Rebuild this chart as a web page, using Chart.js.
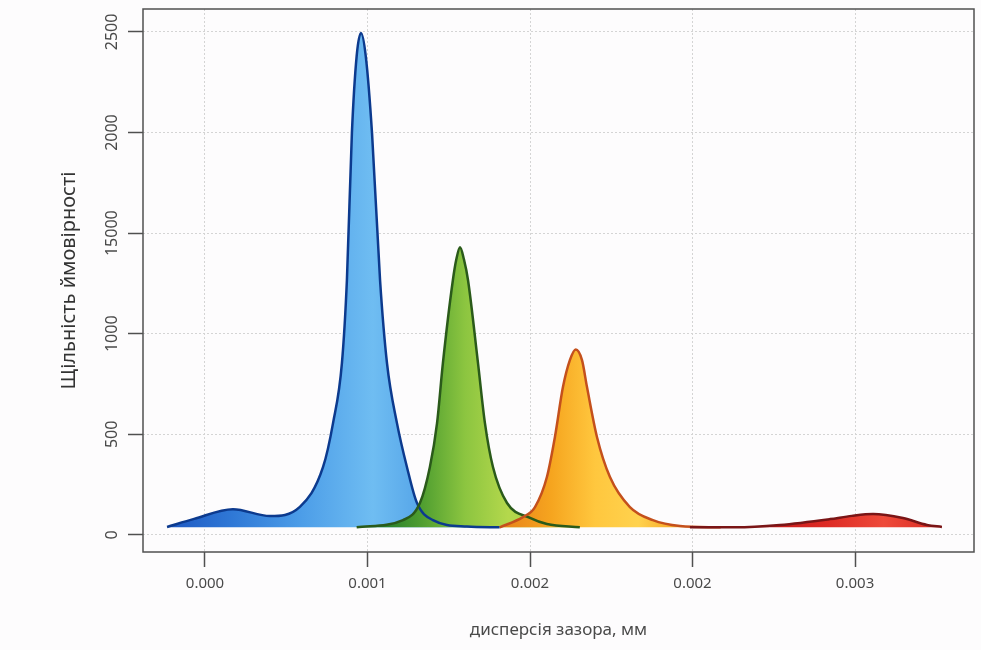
<!DOCTYPE html>
<html>
<head>
<meta charset="utf-8">
<script src="https://cdn.jsdelivr.net/npm/chart.js@4/dist/chart.umd.min.js"></script>
<style>
  html, body { margin: 0; padding: 0; background: #fdfcfd; }
  #wrap { width: 981px; height: 650px; }
</style>
</head>
<body>
<div id="wrap"><canvas id="densityChart" width="981" height="650"></canvas></div>
<script>
// tick positions and their labels, as printed on the original
let xTickValues = [0, 0.00075, 0.0015, 0.00225, 0.003];
let xTickLabels = ['0.000', '0.001', '0.002', '0.002', '0.003'];
let yTickValues = [0, 500, 1000, 1500, 2000, 2500];
let yTickLabels = ['0', '500', '1000', '15000', '2000', '2500'];

// curves (x in mm, y = density)
let blueX = [-0.000175, -0.00005, 0.000129, 0.0003, 0.000438, 0.000545, 0.000591, 0.000632, 0.000655, 0.000678, 0.0007, 0.00072, 0.000742, 0.000771, 0.000808, 0.00084, 0.000886, 0.000932, 0.000978, 0.001052, 0.001209, 0.00136];
let blueY = [40, 80, 128, 94, 140, 338, 556, 854, 1266, 1996, 2380, 2495, 2380, 1996, 1266, 854, 556, 338, 160, 74, 42, 38];

let greenX = [0.0007, 0.000914, 0.000992, 0.001038, 0.001071, 0.001098, 0.001144, 0.00116, 0.001177, 0.001195, 0.001214, 0.00126, 0.001292, 0.001329, 0.001394, 0.0015, 0.001578, 0.00173];
let greenY = [38, 74, 159, 338, 556, 854, 1266, 1370, 1430, 1370, 1266, 854, 556, 338, 159, 85, 55, 38];

let orangeX = [0.00136, 0.001467, 0.001523, 0.001578, 0.001615, 0.001652, 0.001684, 0.001711, 0.00174, 0.001763, 0.001809, 0.001869, 0.001961, 0.002067, 0.002192, 0.00238];
let orangeY = [38, 89, 139, 288, 487, 735, 869, 922, 869, 735, 487, 288, 139, 74, 45, 38];

let redX = [0.002238, 0.00245, 0.002653, 0.002884, 0.002985, 0.003083, 0.003221, 0.003332, 0.003401];
let redY = [38, 38, 50, 79, 95, 104, 84, 50, 40];

const BASE = 38;

function pts(xs, ys) {
  return xs.map((x, i) => ({x: x, y: ys[i]}));
}

// horizontal gradient between two data x values
function grad(stops, x0, x1) {
  return function(c) {
    let chart = c.chart;
    if (!chart.chartArea) return stops[0];
    let sx = chart.scales.x;
    let g = chart.ctx.createLinearGradient(sx.getPixelForValue(x0), 0, sx.getPixelForValue(x1), 0);
    stops.forEach((s, i) => g.addColorStop(i / (stops.length - 1), s));
    return g;
  };
}

let frame = {
  id: 'frame',
  afterDraw(chart) {
    let ctx = chart.ctx, a = chart.chartArea, sy = chart.scales.y;
    ctx.save();
    ctx.strokeStyle = '#505050';
    ctx.lineWidth = 1.5;
    ctx.strokeRect(a.left, a.top, a.right - a.left, a.bottom - a.top);
    // rotated y tick labels
    ctx.fillStyle = '#4a4a4a';
    ctx.font = '16px "Noto Sans"';
    ctx.textAlign = 'center';
    ctx.textBaseline = 'middle';
    yTickValues.forEach((v, i) => {
      ctx.save();
      ctx.translate(112, sy.getPixelForValue(v));
      ctx.rotate(-Math.PI / 2);
      ctx.fillText(yTickLabels[i], 0, 0);
      ctx.restore();
    });
    ctx.restore();
  }
};

let ctx = document.getElementById('densityChart').getContext('2d');

let densityChart = new Chart(ctx, {
  type: 'line',
  data: {
    datasets: [{
      data: pts(blueX, blueY),
      borderColor: '#0c3a8e',
      borderWidth: 2.5,
      backgroundColor: grad(['#1c55c0', '#2f78d6', '#4d9ee8', '#6fbdf2', '#4a9ae4'], -0.0002, 0.0011),
      fill: {value: BASE},
      order: 4
    }, {
      data: pts(greenX, greenY),
      borderColor: '#2a5a1a',
      borderWidth: 2.5,
      backgroundColor: grad(['#1f7a2a', '#4f9e30', '#8cc540', '#b4d84c', '#a6d046'], 0.0008, 0.0016),
      fill: {value: BASE},
      order: 3
    }, {
      data: pts(orangeX, orangeY),
      borderColor: '#c4501c',
      borderWidth: 2.5,
      backgroundColor: grad(['#e9861a', '#f6a51f', '#ffc73e', '#ffd24e', '#f5a020'], 0.0014, 0.0022),
      fill: {value: BASE},
      order: 2
    }, {
      data: pts(redX, redY),
      borderColor: '#7a1516',
      borderWidth: 2.5,
      backgroundColor: grad(['#c81c1c', '#dd2a24', '#ee4a3a', '#d92a22'], 0.0026, 0.0034),
      fill: {value: BASE},
      order: 1
    }]
  },
  options: {
    responsive: false,
    animation: false,
    layout: { padding: { top: 9, right: 7, left: 0, bottom: 0 } },
    elements: {
      point: { radius: 0 },
      line: { cubicInterpolationMode: 'monotone' }
    },
    plugins: {
      legend: { display: false },
      tooltip: { enabled: false },
      filler: { drawTime: 'beforeDatasetsDraw' }
    },
    scales: {
      x: {
        type: 'linear',
        min: -0.000286,
        max: 0.003549,
        afterBuildTicks: s => { s.ticks = xTickValues.map(v => ({value: v})); },
        afterFit: s => { s.height = 98; },
        ticks: {
          callback: (v, i) => xTickLabels[i],
          color: '#4a4a4a',
          font: { family: 'Noto Sans', size: 15 },
          padding: 8,
          maxRotation: 0
        },
        grid: {
          color: '#d4d4d4',
          tickColor: '#505050',
          tickLength: 15,
          tickWidth: 1.5
        },
        border: { display: false, dash: [2, 2] },
        title: {
          display: true,
          text: 'дисперсія зазора, мм',
          color: '#4a4a4a',
          font: { family: 'Noto Sans', size: 17 },
          padding: { top: 0, bottom: 10 }
        }
      },
      y: {
        min: -84.5,
        max: 2614,
        afterBuildTicks: s => { s.ticks = yTickValues.map(v => ({value: v})); },
        afterFit: s => { s.width = 143; },
        ticks: { display: false },
        grid: {
          color: '#d4d4d4',
          tickColor: '#505050',
          tickLength: 15,
          tickWidth: 1.5
        },
        border: { display: false, dash: [2, 2] },
        title: {
          display: true,
          text: 'Щільність ймовірності',
          color: '#333333',
          font: { family: 'Noto Sans', size: 20 },
          padding: { top: 57 }
        }
      }
    }
  },
  plugins: [frame]
});
</script>
</body>
</html>
